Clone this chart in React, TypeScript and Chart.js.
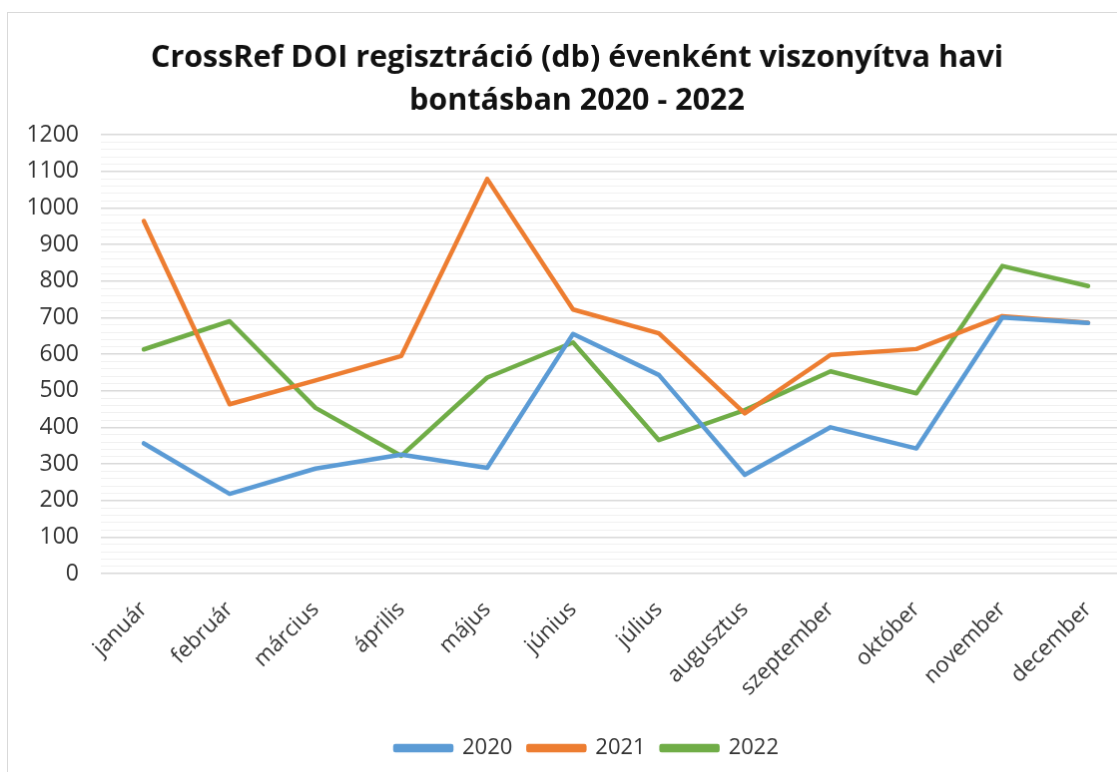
import React, { useEffect, useRef } from "react";
import { Chart, registerables } from "chart.js";

Chart.register(...registerables);

const months = ["január", "február", "március", "április", "május", "június", "július", "augusztus", "szeptember", "október", "november", "december"];
const v2020 = [356, 218, 287, 325, 289, 655, 543, 270, 400, 342, 700, 685];
const v2021 = [964, 463, 528, 595, 1079, 722, 657, 438, 598, 614, 704, 686];
const v2022 = [613, 690, 453, 322, 536, 632, 365, 447, 553, 493, 841, 786];
const seriesNames = ["2020", "2021", "2022"];
const titleLines = ["CrossRef DOI regisztráció (db) évenként viszonyítva havi", "bontásban 2020 - 2022"];

const FONT = "'Open Sans', 'DejaVu Sans', sans-serif";

export default function App() {
  const ref = useRef<HTMLCanvasElement | null>(null);
  useEffect(() => {
    if (!ref.current) return;
    const colors = ["#5B9BD5", "#ED7D31", "#70AD47"];
    const data = [v2020, v2021, v2022];
    const shiftLegend = {
      id: "shiftLegend",
      afterLayout(chart: any) {
        if (chart.legend) {
          chart.legend.left += 10;
          chart.legend.right += 10;
        }
      },
    };
    const chart = new Chart(ref.current, {
      type: "line",
      data: {
        labels: months,
        datasets: seriesNames.map((n, i) => ({
          label: n,
          data: data[i],
          borderColor: colors[i],
          backgroundColor: colors[i],
          borderWidth: 4.5,
          pointRadius: 0,
          tension: 0,
          borderCapStyle: "round" as const,
          borderJoinStyle: "round" as const,
        })),
      },
      options: {
        responsive: false,
        animation: false,
        devicePixelRatio: 1,
        layout: { padding: { left: 0, right: 0, top: 0, bottom: 12 } },
        plugins: {
          title: {
            display: true,
            text: titleLines,
            color: "#111",
            font: { family: FONT, size: 30.5, weight: "bold", lineHeight: 1.41 },
            padding: { top: 24, bottom: 12 },
          },
          legend: {
            position: "bottom",
            labels: {
              color: "#333",
              font: { family: FONT, size: 22 },
              boxWidth: 56,
              boxHeight: 4,
              padding: 16,
            },
          },
          tooltip: { enabled: false },
        },
        scales: {
          x: {
            offset: true,
            grid: { display: false },
            border: { display: false },
            ticks: {
              color: "#333",
              font: { family: FONT, size: 22 },
              minRotation: 45,
              maxRotation: 45,
              autoSkip: false,
              padding: 15,
            },
            afterFit: (s: any) => { s.height = 148; },
          },
          y: {
            min: 0,
            max: 1200,
            border: { display: false },
            grid: {
              drawTicks: false,
              color: (c: any) => (c.tick && c.tick.value % 100 === 0 ? "#d9d9d9" : "#f0f0f0"),
              lineWidth: (c: any) => (c.tick && c.tick.value % 100 === 0 ? 1.5 : 1),
            },
            ticks: {
              stepSize: 20,
              maxTicksLimit: 100,
              autoSkip: false,
              color: "#333",
              font: { family: FONT, size: 23 },
              padding: 22,
              callback: (v: any) => (Number(v) % 100 === 0 ? String(v) : ""),
            },
            afterFit: (s: any) => { s.width = 93; },
          },
          yRight: {
            type: "linear",
            position: "right",
            display: true,
            grid: { display: false },
            border: { display: false },
            ticks: { display: false },
            afterFit: (s: any) => { s.width = 15; },
          },
        },
      },
      plugins: [shiftLegend],
    });
    return () => chart.destroy();
  }, []);
  return (
    <div style={{ position: "absolute", left: 0, top: 0, width: 1117, height: 772, overflow: "hidden", background: "#fff" }}>
      <canvas
        ref={ref}
        width={1140}
        height={770}
        style={{ position: "absolute", left: 7, top: 12, width: 1140, height: 770, border: "1px solid #d9d9d9" }}
      />
    </div>
  );
}
